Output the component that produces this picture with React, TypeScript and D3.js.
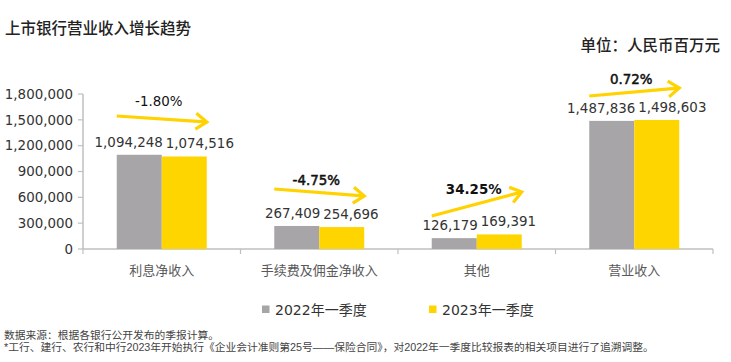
import React from 'react';
import * as d3 from 'd3';

// chart data (RMB million)
const categories = ['利息净收入', '手续费及佣金净收入', '其他', '营业收入'];
const series2022 = [1094248, 267409, 126179, 1487836];
const series2023 = [1074516, 254696, 169391, 1498603];
const seriesNames = ['2022年一季度', '2023年一季度'];
const growthLabels = ['-1.80%', '-4.75%', '34.25%', '0.72%'];
// arrow start/end and label levels, in data units
const arrowFrom = [1544500, 696800, 383200, 1776800];
const arrowTo = [1474900, 615500, 661900, 1869700];
const growthLabelLevel = [1660700, 743200, 638700, 1916000];
const yTicks = [0, 300000, 600000, 900000, 1200000, 1500000, 1800000];

const W = 731;
const H = 362;
const GRAY = '#a7a5a8';
const YELLOW = '#ffd500';
const ARROW = '#ffd200';
const AXIS = '#bfbfbf';
const NUM_FONT = '"DejaVu Sans", "Noto Sans CJK SC", sans-serif';
const CJK_FONT = '"Noto Sans CJK SC", "DejaVu Sans", sans-serif';
const NOTE_FONT = '"Liberation Sans", "Noto Sans CJK SC", sans-serif';

const App = () => {
    const margin = { top: 94, left: 83, right: 18, bottom: 113 };
    const plotBottom = H - margin.bottom;

    const xScale = d3.scaleBand<string>()
        .domain(categories)
        .range([margin.left, W - margin.right])
        .paddingInner(3 / 7)
        .paddingOuter(1.5 / 7);

    const yScale = d3.scaleLinear()
        .domain([0, 1800000])
        .range([plotBottom, margin.top]);

    const fmt = d3.format(',');
    const barW = xScale.bandwidth() / 2;
    const step = xScale.step();
    const x0 = margin.left;

    const arrowPath = (x1: number, y1: number, x2: number, y2: number) => {
        const a = Math.atan2(y2 - y1, x2 - x1);
        const L = 13.5;
        const h = (36 * Math.PI) / 180;
        const p1 = [x2 - L * Math.cos(a - h), y2 - L * Math.sin(a - h)];
        const p2 = [x2 - L * Math.cos(a + h), y2 - L * Math.sin(a + h)];
        return {
            shaft: `M${x1},${y1}L${x2 - 1.5 * Math.cos(a)},${y2 - 1.5 * Math.sin(a)}`,
            head: `M${p1[0]},${p1[1]}L${x2},${y2}L${p2[0]},${p2[1]}`,
        };
    };

    return (
        <svg width={W} height={H} style={{ position: 'absolute', left: 0, top: 0, background: '#fff' }}>
            {/* title */}
            <text x={5} y={34} fontFamily={CJK_FONT} fontSize={15.5} fontWeight={500} fill="#222">
                上市银行营业收入增长趋势
            </text>
            <text x={720} y={51} textAnchor="end" fontFamily={CJK_FONT} fontSize={15.5} fontWeight={500} fill="#222">
                单位：人民币百万元
            </text>

            {/* y axis */}
            <line x1={x0} x2={x0} y1={margin.top} y2={plotBottom} stroke={AXIS} strokeWidth={1.5} />
            {yTicks.map(t => (
                <g key={t} transform={`translate(0,${yScale(t)})`}>
                    <line x1={x0 - 5} x2={x0} stroke={AXIS} strokeWidth={1.2} />
                    <text x={73} dy="0.35em" textAnchor="end" fontFamily={NUM_FONT} fontSize={13.4} fill="#333">
                        {fmt(t)}
                    </text>
                </g>
            ))}

            {/* x axis */}
            <line x1={x0} x2={W - margin.right} y1={plotBottom} y2={plotBottom} stroke={AXIS} strokeWidth={1.5} />
            {d3.range(categories.length + 1).map(i => (
                <line key={i} x1={x0 + i * step} x2={x0 + i * step} y1={plotBottom} y2={plotBottom + 5}
                    stroke={AXIS} strokeWidth={1.2} />
            ))}
            {categories.map(c => (
                <text key={c} x={(xScale(c) ?? 0) + xScale.bandwidth() / 2} y={275} textAnchor="middle"
                    fontFamily={CJK_FONT} fontSize={13} fill="#595959">
                    {c}
                </text>
            ))}

            {/* bars + value labels */}
            {categories.map((c, i) => {
                const bx = xScale(c) ?? 0;
                const mid = bx + barW;
                return (
                    <g key={c}>
                        <rect x={bx} y={yScale(series2022[i])} width={barW}
                            height={plotBottom - yScale(series2022[i])} fill={GRAY} />
                        <rect x={mid} y={yScale(series2023[i])} width={barW}
                            height={plotBottom - yScale(series2023[i])} fill={YELLOW} />
                        <text x={mid + 1} y={yScale(series2022[i]) - 8} textAnchor="end"
                            fontFamily={NUM_FONT} fontSize={13.4} fill="#333">
                            {fmt(series2022[i])}
                        </text>
                        <text x={mid + 4} y={yScale(series2023[i]) - 8} textAnchor="start"
                            fontFamily={NUM_FONT} fontSize={13.4} fill="#333">
                            {fmt(series2023[i])}
                        </text>
                    </g>
                );
            })}

            {/* growth arrows */}
            {categories.map((c, i) => {
                const bx = xScale(c) ?? 0;
                const p = arrowPath(bx, yScale(arrowFrom[i]), bx + 2 * barW, yScale(arrowTo[i]));
                const heavy = i === 2;
                const medium = i === 1 || i === 3;
                return (
                    <g key={c}>
                        <path d={p.shaft} stroke={ARROW} strokeWidth={3.2} fill="none" />
                        <path d={p.head} stroke={ARROW} strokeWidth={3.2} fill="none" strokeLinejoin="miter" />
                        <text x={bx + barW - 3} y={yScale(growthLabelLevel[i])} textAnchor="middle"
                            fontFamily={NUM_FONT} fontSize={13.4} fontWeight={heavy ? 'bold' : 'normal'}
                            fill="#111" stroke={medium ? '#111' : 'none'} strokeWidth={0.5}>
                            {growthLabels[i]}
                        </text>
                    </g>
                );
            })}

            {/* legend */}
            {seriesNames.map((s, i) => (
                <g key={s} transform={`translate(${262 + i * 167},0)`}>
                    <rect x={0} y={305.5} width={7.5} height={7.5} fill={i === 0 ? GRAY : YELLOW} />
                    <text x={13} y={314.5} fontFamily={NUM_FONT} fontSize={14} fill="#333">{s}</text>
                </g>
            ))}

            {/* footnotes */}
            <text x={4} y={339} fontFamily={NOTE_FONT} fontSize={10.75} fill="#444">
                数据来源：根据各银行公开发布的季报计算。
            </text>
            <text x={4} y={351} fontFamily={NOTE_FONT} fontSize={10.75} fill="#444">
                *工行、建行、农行和中行2023年开始执行《企业会计准则第25号——保险合同》，对2022年一季度比较报表的相关项目进行了追溯调整。
            </text>
        </svg>
    );
};

export default App;
